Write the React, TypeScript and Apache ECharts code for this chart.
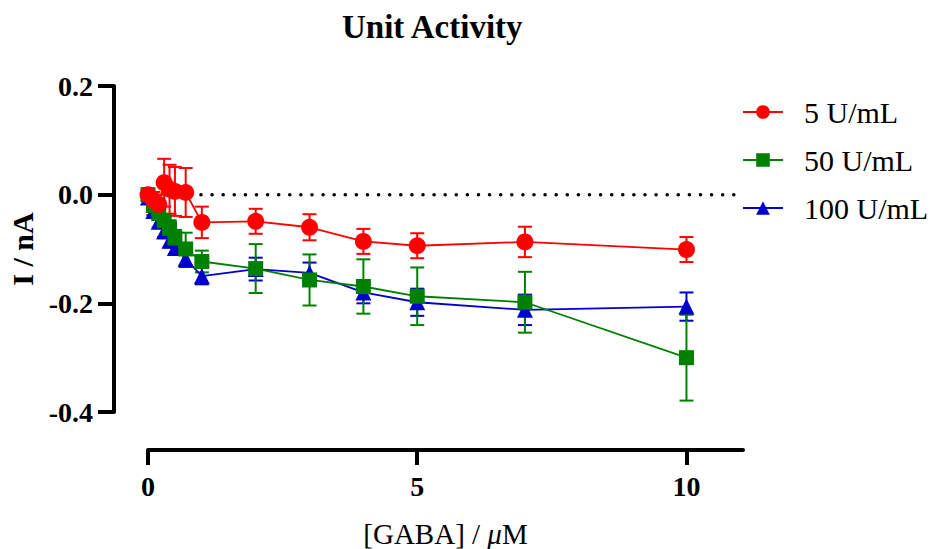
import React, { useEffect, useRef } from "react";
import * as echarts from "echarts";

const xs = [0, 0.1, 0.2, 0.3, 0.4, 0.5, 0.7, 1, 2, 3, 4, 5, 7, 10];

const red5 = [0.0, -0.01, -0.018, 0.022, 0.01, 0.006, 0.004, -0.051, -0.049, -0.06, -0.086, -0.094, -0.087, -0.101];
const red5Err = [0.005, 0.015, 0.018, 0.044, 0.045, 0.045, 0.045, 0.029, 0.023, 0.024, 0.023, 0.023, 0.028, 0.023];

const green50 = [0.0, -0.02, -0.035, -0.048, -0.062, -0.08, -0.1, -0.123, -0.136, -0.157, -0.169, -0.187, -0.198, -0.3];
const green50Err = [0.005, 0.008, 0.01, 0.012, 0.015, 0.015, 0.03, 0.02, 0.045, 0.047, 0.05, 0.053, 0.056, 0.079];

const blue100 = [-0.005, -0.03, -0.05, -0.068, -0.085, -0.098, -0.118, -0.15, -0.137, -0.144, -0.18, -0.198, -0.212, -0.206];
const blue100Err = [0.005, 0.008, 0.01, 0.01, 0.012, 0.012, 0.015, 0.015, 0.021, 0.019, 0.02, 0.025, 0.028, 0.026];

const seriesNames = ["5 U/mL", "50 U/mL", "100 U/mL"];
const xTicks = [0, 5, 10];
const zeroLineX = [-0.46, 10.93];

const FONT = "'Liberation Serif', 'Times New Roman', serif";

function errSeries(name: string, vals: number[], errs: number[], color: string) {
  return {
    type: "custom",
    name: name + " err",
    clip: false,
    silent: true,
    data: xs.map((x, i) => [x, vals[i], errs[i]]),
    renderItem: (params: any, api: any) => {
      const x = api.value(0);
      const y = api.value(1);
      const e = api.value(2);
      const top = api.coord([x, y + e]);
      const bot = api.coord([x, y - e]);
      const hw = 7;
      const style = { stroke: color, lineWidth: 2 };
      return {
        type: "group",
        children: [
          { type: "line", shape: { x1: top[0], y1: top[1], x2: bot[0], y2: bot[1] }, style },
          { type: "line", shape: { x1: top[0] - hw, y1: top[1], x2: top[0] + hw, y2: top[1] }, style },
          { type: "line", shape: { x1: bot[0] - hw, y1: bot[1], x2: bot[0] + hw, y2: bot[1] }, style },
        ],
      };
    },
  };
}

function lineSeries(name: string, vals: number[], color: string, symbol: string, size: number) {
  return {
    type: "line",
    name,
    clip: false,
    data: xs.map((x, i) => [x, vals[i]]),
    symbol,
    symbolSize: size,
    showAllSymbol: true,
    itemStyle: { color },
    lineStyle: { color, width: 1.8 },
  };
}

export default function App() {
  const ref = useRef<HTMLDivElement>(null);
  useEffect(() => {
    if (!ref.current) return;
    const chart = echarts.init(ref.current, null, { renderer: "svg" });
    const option: any = {
      animation: false,
      backgroundColor: "#ffffff",
      title: {
        text: "Unit Activity",
        left: 337,
        top: 5,
        textStyle: { fontFamily: FONT, fontSize: 33, fontWeight: "bold", color: "#000" },
      },
      legend: {
        data: seriesNames,
        orient: "vertical",
        left: 742,
        top: 97,
        padding: 0,
        itemWidth: 40,
        itemHeight: 17,
        itemGap: 18,
        textStyle: { fontFamily: FONT, fontSize: 30, color: "#000", lineHeight: 30, padding: [0, 0, 0, 16] },
      },
      grid: { left: 148, right: 192, top: 86, bottom: 137, containLabel: false, outerBoundsMode: "none" },
      xAxis: {
        type: "value",
        min: 0,
        max: 11.05,
        interval: 5,
        offset: 38,
        splitLine: { show: false },
        axisLine: { onZero: false, lineStyle: { color: "#000", width: 4, cap: "round" } },
        axisTick: { length: 15, customValues: xTicks, lineStyle: { color: "#000", width: 4 } },
        axisLabel: {
          margin: 22,
          customValues: xTicks,
          fontFamily: FONT,
          fontSize: 28,
          fontWeight: "bold",
          color: "#000",
          formatter: (v: number) => String(v),
        },
        name: "[GABA] / {i|μ}M",
        nameLocation: "middle",
        nameGap: 69,
        nameTextStyle: {
          fontFamily: FONT,
          fontSize: 29,
          color: "#000",
          rich: { i: { fontFamily: FONT, fontSize: 29, fontStyle: "italic", color: "#000" } },
        },
      },
      yAxis: {
        type: "value",
        min: -0.4,
        max: 0.2,
        interval: 0.2,
        offset: 34,
        splitLine: { show: false },
        axisLine: { onZero: false, lineStyle: { color: "#000", width: 4, cap: "round" } },
        axisTick: { length: 16, lineStyle: { color: "#000", width: 4 } },
        axisLabel: {
          margin: 21,
          fontFamily: FONT,
          fontSize: 28,
          fontWeight: "bold",
          color: "#000",
          formatter: (v: number) => v.toFixed(1),
        },
        name: "I / nA",
        nameLocation: "middle",
        nameGap: 74,
        nameRotate: 90,
        nameTextStyle: { fontFamily: FONT, fontSize: 30, fontWeight: "bold", color: "#000" },
      },
      series: [
        {
          type: "line",
          name: "zero",
          clip: false,
          silent: true,
          symbol: "none",
          data: zeroLineX.map((x) => [x, 0]),
          lineStyle: { color: "#000", width: 3.5, type: [0.1, 11], cap: "round" },
          z: 1,
        },
        errSeries(seriesNames[2], blue100, blue100Err, "#0000CD"),
        lineSeries(seriesNames[2], blue100, "#0000CD", "triangle", 16),
        errSeries(seriesNames[1], green50, green50Err, "#008000"),
        lineSeries(seriesNames[1], green50, "#008000", "rect", 15),
        errSeries(seriesNames[0], red5, red5Err, "#FF0000"),
        lineSeries(seriesNames[0], red5, "#FF0000", "circle", 17),
      ],
    };
    chart.setOption(option);
    return () => chart.dispose();
  }, []);
  return (
    <div
      ref={ref}
      style={{ position: "fixed", left: 0, top: 0, width: 935, height: 549, background: "#fff" }}
    />
  );
}
